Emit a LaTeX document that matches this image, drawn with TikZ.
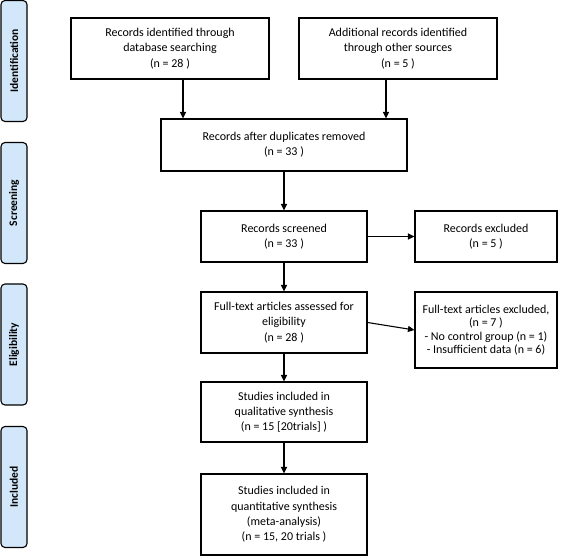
\documentclass[tikz,border=0pt]{standalone}
\usepackage{fontspec}
\setmainfont{Carlito}
\usetikzlibrary{arrows,arrows.meta,shapes,positioning}
\definecolor{phase-blue}{HTML}{D2E8FA}

\begin{document}
\begin{tikzpicture}[x=1pt, y=1pt, line width=1.1pt, >={Triangle[length=6.5pt,width=6pt]},
    box/.style={rectangle, draw, align=center, inner sep=2pt, font=\fontsize{12}{15.3}\selectfont},
    phase/.style={rectangle, rounded corners=4pt, draw, fill=phase-blue, rotate=90, minimum width=121pt, minimum height=26pt, font=\bfseries\fontsize{11.5}{13}\selectfont}]
    \useasboundingbox (0,0) rectangle (568,-556);

    % phases on the left
    \node[phase] (ident) at (14,-61) {Identification};
    \node[phase] (screening) at (14,-203) {Screening};
    \node[phase] (elig) at (14,-344.5) {Eligibility};
    \node[phase] (incl) at (14,-487) {Included};

    % flow
    \node[box, minimum width=198pt, minimum height=61pt] (db) at (170,-48.5) {Records identified through\\database searching\\(n = 28 )};
    \node[box, minimum width=198pt, minimum height=61pt] (other) [right of=db, node distance=228pt] {Additional records identified\\through other sources\\(n = 5 )};
    \node[box, minimum width=246pt, minimum height=52pt] (dup) at (284,-145) {Records after duplicates removed\\(n = 33 )};
    \node[box, minimum width=166pt, minimum height=51pt] (screen) [below of=dup, node distance=91.5pt] {Records screened\\(n = 33 )};
    \node[box, minimum width=142pt, minimum height=51pt] (excl) [right of=screen, node distance=202pt] {Records excluded\\(n = 5 )};
    \node[box, minimum width=166pt, minimum height=61pt] (full) [below of=screen, node distance=86pt] {Full-text articles assessed for\\eligibility\\(n = 28 )};
    \node[box, minimum width=142pt, minimum height=76pt, font=\fontsize{12}{13.5}\selectfont] (fullexcl) [right of=full, node distance=202pt, yshift=-7.5pt] {Full-text articles excluded,\\(n = 7 )\\- No control group (n = 1)\\- Insufficient data (n = 6)};
    \node[box, minimum width=166pt, minimum height=60pt] (qual) [below of=full, node distance=89.5pt] {Studies included in\\qualitative synthesis\\(n = 15 [20trials] )};
    \node[box, minimum width=166pt, minimum height=81pt] (quant) [below of=qual, node distance=102.5pt] {Studies included in\\quantitative synthesis\\(meta-analysis)\\(n = 15, 20 trials )};

    \draw[->] ([xshift=13pt]db.south) -- ([xshift=13pt]db.south |- dup.north);
    \draw[->] ([xshift=-12pt]other.south) -- ([xshift=-12pt]other.south |- dup.north);
    \draw[->] (dup) -- (screen);
    \draw[->] (screen) -- (excl);
    \draw[->] (screen) -- (full);
    \draw[->] (full.east) -- (fullexcl.west);
    \draw[->] (full) -- (qual);
    \draw[->] (qual) -- (quant);

\end{tikzpicture}
\end{document}
